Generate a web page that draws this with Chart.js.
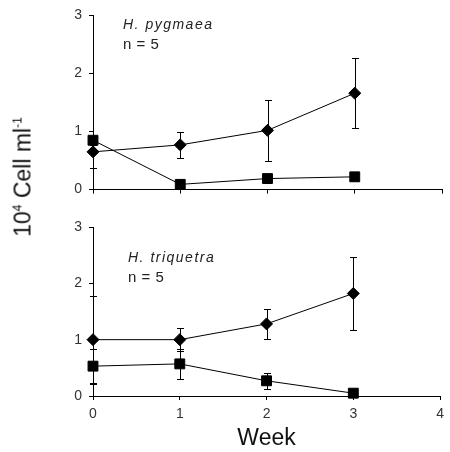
<!DOCTYPE html>
<html lang="en">
<head>
<meta charset="UTF-8">
<title>Cell counts per week</title>
<script src="https://cdn.jsdelivr.net/npm/chart.js"></script>
<style>
  body { margin: 0; background: #fff; }
  #wrap { position: relative; width: 450px; height: 452px; font-family: Arial, "Liberation Sans", sans-serif; }
  #topChart { position: absolute; left: 0; top: 0; }
  #bottomChart { position: absolute; left: 0; top: 210px; }
  #ytitle {
    position: absolute; left: 23px; top: 177px;
    transform: translate(-50%, -50%) rotate(-90deg);
    font-size: 23px; white-space: nowrap; color: #111;
  }
  #ytitle sup { font-size: 12px; }
</style>
</head>
<body>
<div id="wrap">
  <canvas id="topChart" width="450" height="205"></canvas>
  <canvas id="bottomChart" width="450" height="242"></canvas>
  <div id="ytitle">10<sup>4</sup> Cell ml<sup>-1</sup></div>
</div>

<script>
// weeks sampled
const weeks = [0, 1, 2, 3];
const xTicks = [0, 1, 2, 3, 4];

// H. pygmaea panel
const pygDiamond = [0.65, 0.77, 1.02, 1.66];
const pygDiamondErr = [0.28, 0.22, 0.53, 0.6];
const pygSquare = [0.85, 0.09, 0.19, 0.22];
const pygSquareErr = [0.08, 0, 0, 0];

// H. triquetra panel
const triDiamond = [1.0, 1.0, 1.28, 1.82];
const triDiamondErr = [0.78, 0.2, 0.26, 0.64];
const triSquare = [0.53, 0.57, 0.27, 0.05];
const triSquareErr = [0.3, 0.26, 0.14, 0.05];

const errorBars = {
  id: 'errorBars',
  afterDatasetsDraw(chart) {
    const { ctx, scales: { x, y } } = chart;
    ctx.save();
    ctx.strokeStyle = '#000';
    ctx.lineWidth = 1;
    chart.data.datasets.forEach(ds => {
      if (!ds.errors) return;
      ds.data.forEach((p, i) => {
        const e = ds.errors[i];
        if (!e) return;
        const px = Math.round(x.getPixelForValue(p.x)) + 0.5;
        const y1 = Math.round(y.getPixelForValue(p.y + e)) + 0.5;
        const y2 = Math.round(y.getPixelForValue(Math.max(0, p.y - e))) + 0.5;
        ctx.beginPath();
        ctx.moveTo(px, y1); ctx.lineTo(px, y2);
        ctx.moveTo(px - 3.5, y1); ctx.lineTo(px + 3.5, y1);
        ctx.moveTo(px - 3.5, y2); ctx.lineTo(px + 3.5, y2);
        ctx.stroke();
      });
    });
    ctx.restore();
  }
};

const panelLabel = {
  id: 'panelLabel',
  afterDraw(chart, args, opts) {
    const { ctx, chartArea } = chart;
    ctx.save();
    ctx.fillStyle = '#222';
    ctx.textBaseline = 'alphabetic';
    ctx.letterSpacing = '1.5px';
    ctx.font = 'italic 14px Arial, "Liberation Sans", sans-serif';
    ctx.fillText(opts.name, chartArea.left + opts.dx, chartArea.top + opts.dy);
    ctx.letterSpacing = '0.5px';
    ctx.font = '15px Arial, "Liberation Sans", sans-serif';
    ctx.fillText('n = 5', chartArea.left + opts.dx, chartArea.top + opts.dy + 20);
    ctx.restore();
  }
};

function series(vals, errs, style, radius) {
  return {
    data: weeks.map((w, i) => ({ x: w, y: vals[i] })),
    errors: errs,
    borderColor: '#000',
    backgroundColor: '#000',
    borderWidth: 1,
    pointStyle: style,
    pointRadius: radius,
    pointHoverRadius: radius,
    pointBorderWidth: 1,
    clip: false
  };
}

function makeChart(id, ds, label, pad, xHeight, showX) {
  new Chart(document.getElementById(id), {
    type: 'line',
    data: { datasets: ds },
    options: {
      responsive: false,
      animation: false,
      layout: { padding: pad },
      plugins: {
        legend: { display: false },
        tooltip: { enabled: false },
        panelLabel: label
      },
      scales: {
        x: {
          type: 'linear', min: 0, max: 4,
          afterBuildTicks: s => { s.ticks = xTicks.map(v => ({ value: v })); },
          ticks: { display: showX, color: '#333', padding: 6, font: { size: 14, family: 'Arial, "Liberation Sans", sans-serif' } },
          grid: { drawOnChartArea: false, drawTicks: true, tickLength: 4, color: '#000' },
          border: { color: '#000' },
          title: { display: showX, text: 'Week', color: '#111', padding: 0, font: { size: 23, family: 'Arial, "Liberation Sans", sans-serif' } },
          afterFit: s => { s.height = xHeight; }
        },
        y: {
          min: 0, max: 3,
          ticks: { stepSize: 1, color: '#333', padding: 7, font: { size: 14, family: 'Arial, "Liberation Sans", sans-serif' } },
          grid: { drawOnChartArea: false, drawTicks: true, tickLength: 4, color: '#000' },
          border: { color: '#000' },
          afterFit: s => { s.width = 93; }
        }
      }
    },
    plugins: [errorBars, panelLabel]
  });
}

makeChart('topChart', [
  series(pygDiamond, pygDiamondErr, 'rectRot', 6),
  series(pygSquare, pygSquareErr, 'rect', 7)
], { name: 'H. pygmaea', dx: 30, dy: 14 }, { top: 14, right: 2, left: 0, bottom: 0 }, 15, false);

makeChart('bottomChart', [
  series(triDiamond, triDiamondErr, 'rectRot', 6),
  series(triSquare, triSquareErr, 'rect', 7)
], { name: 'H. triquetra', dx: 35, dy: 35 }, { top: 17, right: 9, left: 0, bottom: 0 }, 56, true);
</script>
</body>
</html>
